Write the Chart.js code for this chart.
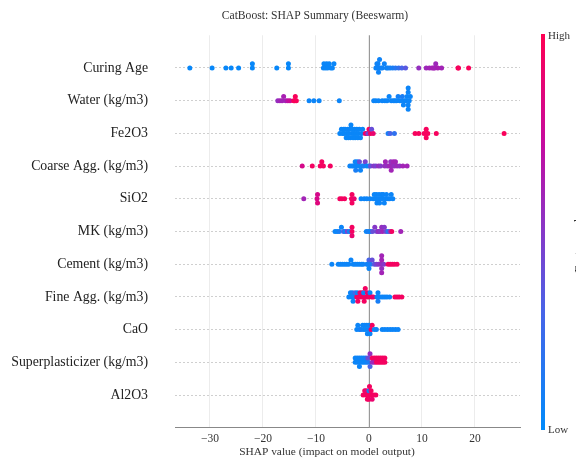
<!DOCTYPE html>
<html>
<head>
<meta charset="utf-8">
<script src="https://cdn.jsdelivr.net/npm/chart.js@4.4.1/dist/chart.umd.min.js"></script>
<style>
  html, body { margin: 0; padding: 0; background: #fff; }
</style>
</head>
<body>
<canvas id="beeswarm" width="576" height="463"></canvas>
<script>
const features = ["Curing Age", "Water (kg/m3)", "Fe2O3", "Coarse Agg. (kg/m3)", "SiO2",
    "MK (kg/m3)", "Cement (kg/m3)", "Fine Agg. (kg/m3)", "CaO", "Superplasticizer (kg/m3)", "Al2O3"];
const xTicks = [-30, -20, -10, 0, 10, 20];

// SHAP values and normalised feature values (0 = low, 1 = high), one pair per feature
const shapCuringAge = [-33.8, -29.6, -27.0, -26.0, -24.6, -22.0, -22.0, -17.4, -15.2, -15.2,
    -8.6, -8.5, -8.2, -8.0, -7.8, -7.5, -7.2, -6.9, -6.6,
    1.3, 1.5, 1.6, 1.7, 1.8, 2.0, 2.2, 2.5, 2.9, 3.3, 3.6, 4.0, 4.5, 5.0, 5.6, 6.2, 6.9,
    9.4, 10.8, 11.4, 11.9, 12.2, 12.4, 12.6, 13.0, 13.7, 16.8, 16.9, 18.8];
const valCuringAge = [0.03, 0.03, 0.03, 0.03, 0.03, 0.03, 0.03, 0.03, 0.03, 0.03,
    0.04, 0.04, 0.04, 0.04, 0.04, 0.04, 0.04, 0.04, 0.04,
    0.06, 0.06, 0.06, 0.06, 0.06, 0.06, 0.06, 0.06, 0.06, 0.06, 0.06, 0.08, 0.1, 0.15, 0.2, 0.3, 0.35,
    0.55, 0.58, 0.6, 0.6, 0.62, 0.6, 0.58, 0.62, 0.6, 0.96, 0.96, 0.97];

const shapWater = [-17.2, -16.8, -16.4, -16.1, -15.7, -15.3, -14.9, -14.2, -14.0, -13.9, -13.7,
    -11.3, -10.4, -9.4, -5.6,
    0.9, 1.3, 1.8, 2.5, 3.0, 3.4, 3.8, 4.2, 4.6, 4.9, 5.2, 5.5, 5.8, 6.1, 6.3, 6.5, 6.7, 7.0, 7.2,
    7.4, 7.4, 7.4, 7.4, 7.6, 7.8];
const valWater = [0.55, 0.6, 0.6, 0.62, 0.6, 0.7, 0.75, 0.97, 0.97, 0.97, 0.97,
    0.05, 0.05, 0.05, 0.05,
    0.05, 0.05, 0.05, 0.05, 0.05, 0.05, 0.05, 0.05, 0.05, 0.05, 0.05, 0.08, 0.05, 0.05, 0.1, 0.05, 0.05, 0.05, 0.05,
    0.05, 0.05, 0.05, 0.05, 0.05, 0.05];

const shapFe2O3 = [-5.5, -5.2, -5.0, -4.8, -4.7, -4.5, -4.3, -4.2, -4.0, -3.9, -3.8, -3.6, -3.5, -3.4,
    -3.2, -3.1, -3.0, -2.8, -2.7, -2.6, -2.4, -2.3, -2.1, -2.0, -1.8, -1.6, -1.4, -1.2,
    -0.7, -0.4, -0.2, 0.0, 0.3, 0.5, 0.8,
    3.6, 4.0, 4.8,
    8.7, 9.4, 10.4, 10.8, 10.8, 10.8, 11.1, 12.7, 25.5];
const valFe2O3 = [0.04, 0.04, 0.04, 0.04, 0.04, 0.04, 0.04, 0.04, 0.04, 0.04, 0.04, 0.04, 0.04, 0.04,
    0.04, 0.04, 0.04, 0.04, 0.04, 0.04, 0.04, 0.04, 0.04, 0.04, 0.04, 0.04, 0.04, 0.04,
    0.9, 0.95, 0.45, 0.95, 0.95, 0.4, 0.9,
    0.1, 0.3, 0.2,
    0.96, 0.96, 0.96, 0.96, 0.96, 0.96, 0.96, 0.96, 0.97];

const shapCoarse = [-12.6, -10.7, -9.2, -8.9, -8.6, -7.3,
    -3.6, -3.2, -2.9, -2.6, -2.5, -2.4, -2.2, -2.0, -1.8, -1.6, -1.3, -1.0, -0.7, -0.4, 0.0, 0.3,
    0.9, 1.3, 1.8, 2.2, 3.0, 3.1, 3.5, 3.9, 4.1, 4.2, 4.4, 4.6, 4.8, 5.0, 5.3, 5.8, 6.4, 7.2];
const valCoarse = [0.8, 0.95, 0.95, 0.95, 0.95, 0.95,
    0.05, 0.05, 0.05, 0.05, 0.1, 0.05, 0.05, 0.05, 0.4, 0.05, 0.05, 0.1, 0.45, 0.05, 0.05, 0.4,
    0.5, 0.45, 0.55, 0.5, 0.55, 0.6, 0.55, 0.6, 0.55, 0.6, 0.58, 0.6, 0.55, 0.6, 0.58, 0.55, 0.6, 0.6];

const shapSiO2 = [-12.3, -9.8, -9.7, -9.7, -5.5, -5.1, -4.6, -3.3, -3.2, -3.2, -2.8,
    -1.5, -0.9, -0.4, 0.2, 0.8, 1.0, 1.2, 1.4, 1.5, 1.7, 1.9, 2.0, 2.2, 2.4, 2.5, 2.7, 2.9, 3.1,
    3.3, 3.6, 3.9, 4.2, 4.5];
const valSiO2 = [0.6, 0.8, 0.8, 0.85, 0.95, 0.95, 0.95, 0.95, 0.95, 0.95, 0.9,
    0.05, 0.05, 0.05, 0.05, 0.05, 0.05, 0.05, 0.05, 0.05, 0.05, 0.05, 0.05, 0.05, 0.05, 0.05, 0.05, 0.05, 0.05,
    0.05, 0.05, 0.05, 0.05, 0.05];

const shapMK = [-6.4, -6.0, -5.6, -5.2, -4.8, -4.5, -4.1, -3.7, -3.2, -3.2, -3.2,
    -0.5, -0.1, 0.3, 0.7, 1.1, 1.5, 1.8, 2.1, 2.4, 2.6, 2.9, 3.2, 3.6, 4.0, 4.3, 6.0];
const valMK = [0.05, 0.05, 0.1, 0.05, 0.3, 0.05, 0.45, 0.05, 0.95, 0.95, 0.9,
    0.05, 0.1, 0.05, 0.4, 0.5, 0.45, 0.55, 0.5, 0.55, 0.6, 0.5, 0.45, 0.15, 0.5, 0.95, 0.6];

const shapCement = [-7.0, -5.8, -5.4, -5.0, -4.6, -4.2, -3.8, -3.4, -3.0, -2.6, -2.2, -1.8, -1.4, -1.1,
    -0.4, -0.2, 0.0, 0.0, 0.3, 0.6, 1.0, 1.4, 1.8, 2.3, 2.4, 2.4, 2.4, 2.4, 2.8,
    3.6, 4.0, 4.4, 4.8, 5.3];
const valCement = [0.05, 0.05, 0.05, 0.05, 0.05, 0.05, 0.05, 0.05, 0.05, 0.05, 0.05, 0.05, 0.05, 0.05,
    0.1, 0.05, 0.3, 0.05, 0.1, 0.4, 0.35, 0.45, 0.5, 0.55, 0.6, 0.55, 0.6, 0.6, 0.5,
    0.95, 0.95, 0.95, 0.95, 0.95];

const shapFineAgg = [-3.8, -3.5, -3.3, -3.1, -3.0, -2.9, -2.6, -2.3, -2.2, -2.1, -1.9, -1.7, -1.5, -1.3,
    -1.1, -1.0, -0.9, -0.7, -0.5, -0.3, -0.1, 0.2, 0.5, 0.8,
    1.5, 1.7, 1.7, 1.7, 2.2, 2.6, 3.0, 3.4, 3.9, 4.9, 5.3, 5.7, 6.2];
const valFineAgg = [0.05, 0.05, 0.05, 0.1, 0.05, 0.05, 0.3, 0.95, 0.05, 0.95, 0.95, 0.9, 0.95, 0.95,
    0.95, 0.05, 0.95, 0.95, 0.95, 0.9, 0.95, 0.05, 0.95, 0.9,
    0.05, 0.05, 0.05, 0.1, 0.05, 0.05, 0.05, 0.05, 0.05, 0.95, 0.95, 0.95, 0.95];

const shapCaO = [-2.3, -2.1, -1.8, -1.5, -1.2, -1.0, -0.8, -0.6, -0.4, -0.3, -0.1, 0.0, 0.2, 0.4, 0.6,
    1.0, 1.4, 2.5, 3.0, 3.5, 4.0, 4.5, 5.0, 5.5];
const valCaO = [0.05, 0.05, 0.05, 0.1, 0.05, 0.05, 0.05, 0.05, 0.05, 0.05, 0.05, 0.05, 0.05, 0.95, 0.95,
    0.05, 0.05, 0.05, 0.05, 0.05, 0.05, 0.05, 0.05, 0.05];

const shapSuperplast = [-2.6, -2.6, -2.2, -2.2, -1.8, -1.8, -1.8, -1.4, -1.4, -1.0, -1.0, -0.6, -0.6,
    -0.2, -0.2, 0.2, 0.2, 0.6, 0.6, 1.0, 1.0, 1.4, 1.4, 1.8, 1.8, 2.2, 2.2, 2.6, 2.6, 3.0, 3.0];
const valSuperplast = [0.05, 0.05, 0.05, 0.05, 0.05, 0.05, 0.05, 0.05, 0.05, 0.05, 0.05, 0.05, 0.1,
    0.1, 0.4, 0.3, 0.55, 0.55, 0.95, 0.6, 0.95, 0.95, 0.95, 0.95, 0.95, 0.95, 0.95, 0.95, 0.95, 0.95, 0.95];

const shapAl2O3 = [-1.1, -0.8, -0.6, -0.5, -0.3, -0.2, 0.0, 0.0, 0.1, 0.3, 0.4, 0.6, 0.9, 1.3];
const valAl2O3 = [0.95, 0.95, 0.95, 0.9, 0.95, 0.95, 0.1, 0.95, 0.95, 0.95, 0.95, 0.9, 0.95, 0.95];

const shapSets = [shapCuringAge, shapWater, shapFe2O3, shapCoarse, shapSiO2, shapMK,
    shapCement, shapFineAgg, shapCaO, shapSuperplast, shapAl2O3];
const valSets = [valCuringAge, valWater, valFe2O3, valCoarse, valSiO2, valMK,
    valCement, valFineAgg, valCaO, valSuperplast, valAl2O3];

// blue -> purple -> red, like shap's red_blue map
const cmapStops = [[0, [0, 139, 251]], [0.3, [72, 100, 232]], [0.5, [134, 56, 200]],
    [0.72, [196, 12, 160]], [1, [255, 0, 82]]];

function featureColor(v) {
    for (let i = 1; i < cmapStops.length; i++) {
        if (v <= cmapStops[i][0]) {
            let a = cmapStops[i - 1], b = cmapStops[i];
            let t = (v - a[0]) / (b[0] - a[0]);
            let c = a[1].map((ch, k) => Math.round(ch + (b[1][k] - ch) * t));
            return "rgb(" + c.join(",") + ")";
        }
    }
    return "rgb(255,0,82)";
}

// stack points that fall in the same x bin, alternating up and down
const binWidth = 0.45;
const layerStep = 0.13;
function swarmOffsets(xs) {
    let order = xs.map((x, i) => i).sort((a, b) => (xs[a] - xs[b]) || (a - b));
    let ys = new Array(xs.length).fill(0);
    let lastBin = null;
    let layer = 0;
    order.forEach(i => {
        let bin = Math.round(xs[i] / binWidth);
        if (bin !== lastBin) layer = 0;
        let sign = (layer % 2) ? -1 : 1;
        ys[i] = Math.ceil(layer / 2) * sign * layerStep;
        layer++;
        lastBin = bin;
    });
    return ys;
}

let datasets = features.map((name, i) => {
    let xs = shapSets[i];
    let offs = swarmOffsets(xs);
    return {
        label: name,
        data: xs.map((x, k) => ({ x: x, y: i + offs[k] })),
        pointBackgroundColor: valSets[i].map(featureColor),
        pointBorderWidth: 0,
        pointRadius: 2.5,
        pointHoverRadius: 2.5
    };
});

const serif = "'Liberation Serif', 'DejaVu Serif', serif";

const decorations = {
    id: "decorations",
    beforeDatasetsDraw(chart) {
        let ctx = chart.ctx;
        let x0 = chart.scales.x.getPixelForValue(0);
        ctx.save();
        ctx.strokeStyle = "#999";
        ctx.lineWidth = 1;
        ctx.beginPath();
        ctx.moveTo(Math.round(x0) + 0.5, chart.chartArea.top);
        ctx.lineTo(Math.round(x0) + 0.5, chart.chartArea.bottom);
        ctx.stroke();
        ctx.restore();
    },
    afterDraw(chart) {
        let ctx = chart.ctx;
        ctx.save();
        ctx.fillStyle = "#333";
        ctx.textAlign = "center";
        ctx.textBaseline = "middle";
        ctx.font = "11.6px " + serif;
        ctx.fillText("CatBoost: SHAP Summary (Beeswarm)", 315, 16);
        ctx.font = "11.4px " + serif;
        ctx.fillText("SHAP value (impact on model output)", 327, 452);

        // colour bar
        let top = 34, bottom = 430;
        let grad = ctx.createLinearGradient(0, bottom, 0, top);
        cmapStops.forEach(s => grad.addColorStop(s[0], "rgb(" + s[1].join(",") + ")"));
        ctx.fillStyle = grad;
        ctx.fillRect(541, top, 4, bottom - top);
        ctx.fillStyle = "#333";
        ctx.textAlign = "left";
        ctx.font = "11px " + serif;
        ctx.fillText("High", 548, top + 2);
        ctx.fillText("Low", 548, bottom);
        ctx.translate(580, 240);
        ctx.rotate(-Math.PI / 2);
        ctx.textAlign = "center";
        ctx.font = "12px " + serif;
        ctx.fillText("Feature value", 0, 0);
        ctx.restore();
    }
};

new Chart("beeswarm", {
    type: "scatter",
    data: { datasets: datasets },
    options: {
        responsive: false,
        animation: false,
        layout: { padding: { top: 35, right: 56, left: 0, bottom: 0 } },
        plugins: {
            legend: { display: false },
            tooltip: { enabled: false }
        },
        scales: {
            x: {
                type: "linear",
                min: -36.6,
                max: 28.5,
                afterBuildTicks: scale => { scale.ticks = xTicks.map(v => ({ value: v })); },
                afterFit: scale => { scale.height = 35; },
                ticks: {
                    padding: 4,
                    color: "#333",
                    font: { family: serif, size: 11.5 },
                    callback: v => String(v).replace("-", "\u2212")
                },
                grid: { color: "#ececec", drawTicks: false },
                border: { display: true, color: "#888", width: 1 }
            },
            y: {
                type: "linear",
                reverse: true,
                min: -1,
                max: 11,
                afterBuildTicks: scale => { scale.ticks = features.map((f, i) => ({ value: i })); },
                afterFit: scale => { scale.width = 175; },
                ticks: {
                    padding: 27,
                    color: "#222",
                    font: { family: serif, size: 13.8 },
                    callback: v => features[v]
                },
                grid: { color: "#cfcfcf", drawTicks: false },
                border: { display: false, dash: [2, 2] }
            }
        }
    },
    plugins: [decorations]
});
</script>
</body>
</html>
